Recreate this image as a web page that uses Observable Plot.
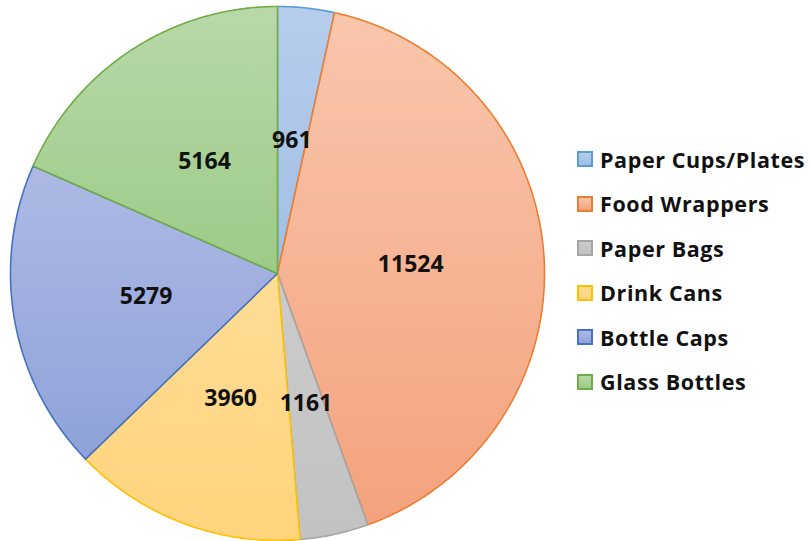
<!DOCTYPE html>
<html>
<head>
<meta charset="utf-8">
<script src="https://cdn.jsdelivr.net/npm/d3@7"></script>
<script src="https://cdn.jsdelivr.net/npm/@observablehq/plot@0.6"></script>
<style>
  html, body { margin: 0; padding: 0; background: #fff; }
  #wrap { display: flex; align-items: center; width: 811px; height: 541px; }
  #legend { margin-left: 22px; font-family: "Open Sans", sans-serif; font-weight: bold; font-size: 21.5px; letter-spacing: 0.6px; color: #111; }
  .row { display: flex; align-items: center; height: 44.6px; white-space: nowrap; }
  .sw { width: 12px; height: 12px; border: 2px solid; margin-right: 7px; box-sizing: content-box; }
</style>
</head>
<body>
<div id="wrap"><div id="chart"></div><div id="legend"></div></div>
<script>
const categories = ["Paper Cups/Plates", "Food Wrappers", "Paper Bags", "Drink Cans", "Bottle Caps", "Glass Bottles"];
const values = [961, 11524, 1161, 3960, 5279, 5164];
const fillTop = ["#b6cdeb", "#f9c6ac", "#cbcbcb", "#ffdc96", "#aeb9e4", "#b8d8a9"];
const fillBottom = ["#a2bee6", "#f4a27d", "#c2c2c2", "#ffd47c", "#8ea2d9", "#9dcb87"];
const strokes = ["#5b9bd5", "#ed7d31", "#a5a5a5", "#ffc000", "#4472c4", "#70ad47"];

const R = 267;
const W = 555, H = 541;
const pie = d3.pie().sort(null).value(d => d.value)(categories.map((c, i) => ({c, value: values[i], i})));

function slicePoints(a0, a1) {
  const pts = [{x: 0, y: 0}];
  const n = Math.max(2, Math.ceil((a1 - a0) / 0.01));
  for (let k = 0; k <= n; k++) {
    const a = a0 + (a1 - a0) * k / n;
    pts.push({x: R * Math.sin(a), y: R * Math.cos(a)});
  }
  pts.push({x: 0, y: 0});
  return pts;
}

const sliceMarks = pie.map(p => Plot.line(slicePoints(p.startAngle, p.endAngle), {
  x: "x", y: "y", fill: `url(#grad${p.data.i})`, stroke: strokes[p.data.i], strokeWidth: 1.6, strokeLinejoin: "round"
}));

const labels = pie.map(p => {
  const a = (p.startAngle + p.endAngle) / 2;
  return {x: 0.5 * R * Math.sin(a), y: 0.5 * R * Math.cos(a), label: String(p.data.value)};
});

const chart = Plot.plot({
  width: W, height: H,
  margin: 0,
  x: {domain: [-277, W - 277], axis: null},
  y: {domain: [-(H - 273), 273], axis: null},
  style: {fontFamily: "'Open Sans', sans-serif"},
  marks: [
    ...sliceMarks,
    Plot.text(labels, {x: "x", y: "y", text: "label", fontSize: 23, fontWeight: "bold", fill: "#111"})
  ]
});

const ns = "http://www.w3.org/2000/svg";
const defs = document.createElementNS(ns, "defs");
categories.forEach((c, i) => {
  const g = document.createElementNS(ns, "linearGradient");
  g.setAttribute("id", "grad" + i);
  g.setAttribute("x1", "0"); g.setAttribute("y1", "0");
  g.setAttribute("x2", "0"); g.setAttribute("y2", "1");
  [[0, fillTop[i]], [1, fillBottom[i]]].forEach(([o, col]) => {
    const s = document.createElementNS(ns, "stop");
    s.setAttribute("offset", o);
    s.setAttribute("stop-color", col);
    g.appendChild(s);
  });
  defs.appendChild(g);
});
chart.insertBefore(defs, chart.firstChild);
document.getElementById("chart").appendChild(chart);

const legend = document.getElementById("legend");
categories.forEach((c, i) => {
  const row = document.createElement("div");
  row.className = "row";
  const sw = document.createElement("div");
  sw.className = "sw";
  sw.style.background = `linear-gradient(${fillTop[i]}, ${fillBottom[i]})`;
  sw.style.borderColor = strokes[i];
  const t = document.createElement("span");
  t.textContent = c;
  row.appendChild(sw); row.appendChild(t);
  legend.appendChild(row);
});
</script>
</body>
</html>
